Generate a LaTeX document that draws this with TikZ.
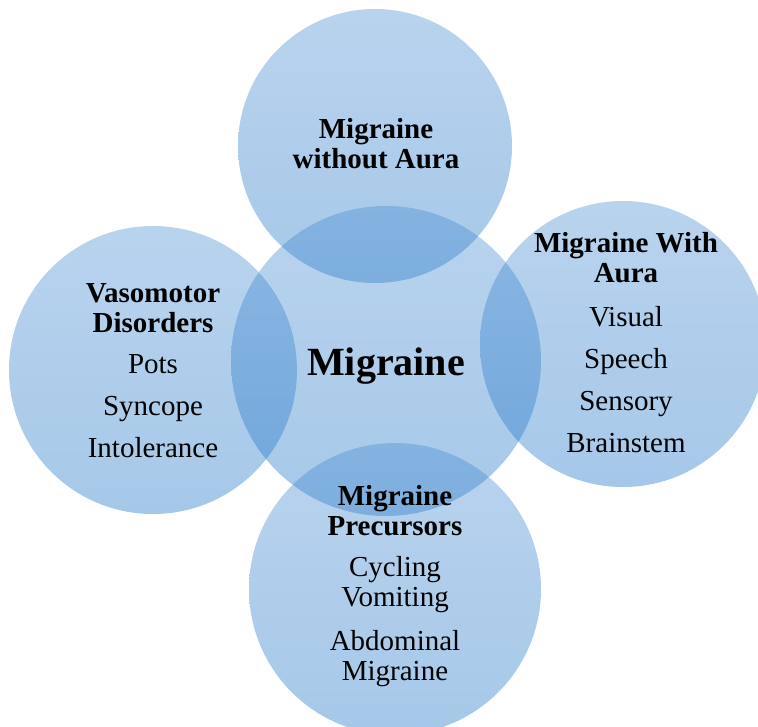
\documentclass[tikz,border=0pt]{standalone}
\usepackage{fontspec}
\setmainfont{Liberation Serif}
\usetikzlibrary{positioning}
\definecolor{bubbletop}{RGB}{70,140,210}
\definecolor{bubblebot}{RGB}{20,110,195}

\begin{document}
\begin{tikzpicture}[x=1pt, y=-1pt,
    bubble/.style={circle, draw=none, inner sep=0pt, top color=bubbletop,
        bottom color=bubblebot, fill opacity=0.38},
    bubbletext/.style={align=center, anchor=base, text=black,
        font=\fontsize{29}{30}\selectfont}]
\useasboundingbox (0,0) rectangle (758,726);
\clip (0,0) rectangle (758,726);

% Circles
\node[bubble, minimum size=274pt] (cTop) at (375,146) {};
\node[bubble, minimum size=288pt] (cLeft) at (153,370) {};
\node[bubble, minimum size=286pt] (cRight) at (623,344) {};
\node[bubble, minimum size=310pt] (cMain) at (386,361) {};
\node[bubble, minimum size=292pt] (cBottom) at (395,589) {};

% Texts (anchored at the baseline of the last line)
\node[bubbletext, font=\fontsize{40}{42}\selectfont\bfseries] (tMain) at (386,375) {Migraine};
\node[bubbletext] (tTop) at (376,168) {\textbf{Migraine}\\\textbf{without Aura}};
\node[bubbletext] (tLeft) at (153,457)
    {\textbf{Vasomotor}\\\textbf{Disorders}\\[11pt]Pots\\[12pt]Syncope\\[12pt]Intolerance};
\node[bubbletext] (tRight) at (626,452)
    {\textbf{Migraine With}\\\textbf{Aura}\\[14pt]Visual\\[12pt]Speech\\[12pt]Sensory\\[12pt]Brainstem};
\node[bubbletext] (tBottom) at (395,680)
    {\textbf{Migraine}\\\textbf{Precursors}\\[11pt]Cycling\\Vomiting\\[14pt]Abdominal\\Migraine};

\end{tikzpicture}
\end{document}
